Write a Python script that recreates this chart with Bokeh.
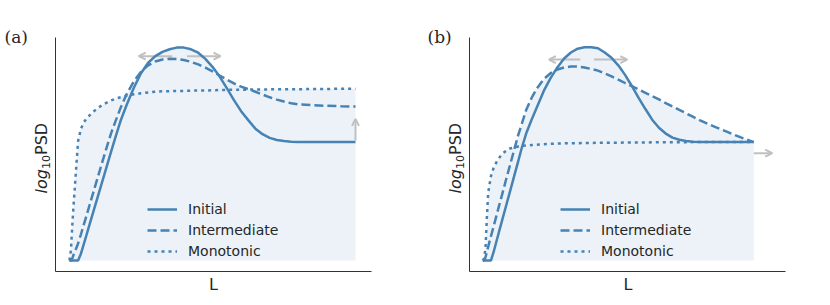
import numpy as np
from bokeh.plotting import figure
from bokeh.layouts import row
from bokeh.models import (Label, Legend, LegendItem, Arrow, OpenHead,
                          FixedTicker, Range1d)
from bokeh.embed import file_html
from bokeh.resources import INLINE

# ---------------- data ----------------
L = [0, 0.05, 0.1, 0.15, 0.2, 0.3, 0.4, 0.5, 0.6, 0.7, 0.85, 1.0, 1.15, 1.3,
     1.45, 1.6, 1.8, 2.0, 2.25, 2.5, 2.75, 3.0, 3.25, 3.5, 3.75, 4.0, 4.25,
     4.5, 4.75, 5.0, 5.25, 5.5, 5.75, 6.0, 6.25, 6.5, 6.75, 7.0, 7.25, 7.5,
     7.75, 8.0, 8.5, 9.0, 9.5, 10.0]

# panel (a)
initial_a = [0, 0, 0, 0, 0, 0,
             0.32, 0.77, 1.22, 1.68, 2.36, 3.04, 3.72, 4.4, 5.08, 5.75,
             6.6, 7.3, 8.1, 8.78, 9.27, 9.58, 9.78, 9.9, 9.98, 9.98,
             9.9, 9.74, 9.45, 9.08, 8.62, 8.08, 7.52, 7.0, 6.58, 6.18,
             5.92, 5.75, 5.65, 5.6, 5.57, 5.56, 5.55, 5.55, 5.55, 5.55]
intermediate_a = [0, 0, 0.1, 0.3, 0.45, 0.8,
                  1.23, 1.68, 2.13, 2.59, 3.27, 3.95, 4.63, 5.3, 5.95, 6.5,
                  7.2, 7.8, 8.4, 8.85, 9.15, 9.33, 9.42, 9.46, 9.45, 9.4,
                  9.31, 9.19, 9.04, 8.87, 8.67, 8.48, 8.3, 8.15, 8.03, 7.91,
                  7.78, 7.65, 7.54, 7.45, 7.37, 7.32, 7.28, 7.25, 7.23, 7.22]
monotonic_a = [0, 0.5, 1.7, 2.75, 3.7, 5.6,
               6.17, 6.48, 6.66, 6.8, 7.0, 7.15, 7.3, 7.4, 7.5, 7.58,
               7.66, 7.73, 7.79, 7.84, 7.88, 7.91, 7.93, 7.94, 7.95, 7.95,
               7.96, 7.97, 7.97, 7.98, 7.99, 8.0, 8.0, 8.0, 8.01, 8.02,
               8.02, 8.02, 8.03, 8.03, 8.03, 8.03, 8.04, 8.04, 8.05, 8.05]

# panel (b)
initial_b = [0, 0, 0, 0, 0, 0,
             0.4, 0.88, 1.35, 1.82, 2.52, 3.22, 3.92, 4.62, 5.33, 5.95,
             6.6, 7.2, 7.95, 8.55, 9.05, 9.47, 9.75, 9.93, 10.0, 10.0,
             9.95, 9.75, 9.5, 9.15, 8.7, 8.18, 7.62, 7.1, 6.6, 6.22,
             5.95, 5.76, 5.66, 5.6, 5.57, 5.56, 5.55, 5.55, 5.55, 5.55]
intermediate_b = [0, 0, 0.15, 0.4, 0.65, 1.13,
                  1.6, 2.08, 2.56, 3.03, 3.75, 4.45, 5.15, 5.85, 6.45, 7.05,
                  7.62, 8.07, 8.5, 8.78, 8.95, 9.05, 9.09, 9.09, 9.05, 8.98,
                  8.9, 8.77, 8.63, 8.48, 8.32, 8.17, 8.02, 7.86, 7.7, 7.55,
                  7.38, 7.22, 7.06, 6.9, 6.74, 6.58, 6.3, 6.04, 5.78, 5.55]
monotonic_b = [0, 0.1, 0.6, 2.0, 3.2, 3.95,
               4.35, 4.6, 4.8, 4.98, 5.13, 5.25, 5.3, 5.34, 5.37, 5.39,
               5.41, 5.43, 5.45, 5.47, 5.48, 5.49, 5.5, 5.5, 5.51, 5.51,
               5.52, 5.52, 5.52, 5.52, 5.53, 5.53, 5.53, 5.53, 5.54, 5.54,
               5.54, 5.54, 5.54, 5.54, 5.55, 5.55, 5.55, 5.55, 5.55, 5.55]

series_names = ["Initial", "Intermediate", "Monotonic"]
panel_tags = ["(a)", "(b)"]
x_label = "L"

# gray arrows: (x_start, y_start, x_end, y_end)
arrows_a = [(3.59, 9.58, 2.42, 9.58), (4.11, 9.58, 5.28, 9.58),
            (10.0, 5.63, 10.0, 6.64)]
arrows_b = [(3.60, 9.42, 2.44, 9.42), (4.10, 9.42, 5.33, 9.42),
            (10.0, 5.03, 10.68, 5.03)]

# ---------------- style / layout ----------------
BLUE = "#4682B4"
GRAY = "#c0c0c0"
DARK = "#262626"
SPINE = "#333333"
DASHES = ["solid", "9 4", "3 4"]
H = 300


def make_panel(tag, curves, arrows, width, xr, spine_x, x_axis_end,
               tag_x, label_x, ylab_x, legend_x):
    p = figure(frame_width=width, frame_height=H,
               x_range=Range1d(*xr), y_range=Range1d(-1.875, 12.1875),
               min_border=0, min_border_left=0, min_border_right=0,
               min_border_top=0, min_border_bottom=0,
               toolbar_location=None, output_backend="svg",
               background_fill_color="white", border_fill_color="white")
    p.outline_line_color = None
    p.grid.visible = False
    for ax in (p.xaxis, p.yaxis):
        ax.ticker = FixedTicker(ticks=[])
        ax.major_tick_line_color = None
        ax.minor_tick_line_color = None
        ax.major_tick_out = 0
        ax.major_tick_in = 0
        ax.minor_tick_out = 0
        ax.major_label_standoff = 0
        ax.major_label_text_font_size = "0px"
        ax.axis_line_color = SPINE
        ax.axis_line_width = 1
    # spines drawn at their own places inside the figure
    p.yaxis.fixed_location = spine_x
    p.yaxis.bounds = (-0.5156, 10.453)
    p.xaxis.fixed_location = -0.5156
    p.xaxis.bounds = (spine_x, x_axis_end)

    envelope = np.maximum.reduce([np.array(c, dtype=float) for c in curves])
    fill = p.varea(x=L, y1=0, y2=envelope, fill_color=BLUE, fill_alpha=0.1)
    fill.level = "underlay"

    for (xs, ys, xe, ye) in arrows:
        a = Arrow(x_start=xs, y_start=ys, x_end=xe, y_end=ye,
                  line_color=GRAY, line_width=2,
                  end=OpenHead(size=7, line_color=GRAY, line_width=2))
        a.level = "underlay"
        p.add_layout(a)

    items = []
    for name, c, dash in zip(series_names, curves, DASHES):
        r = p.line(L, c, line_color=BLUE, line_width=2.5, line_dash=dash)
        items.append(LegendItem(label=name, renderers=[r]))

    leg = Legend(items=items, location=(legend_x, 39),
                 border_line_color=None, background_fill_alpha=0,
                 padding=0, margin=0, spacing=1,
                 glyph_width=30, glyph_height=20, label_height=20,
                 label_standoff=11, label_text_font="DejaVu Sans",
                 label_text_font_size="14px", label_text_color=DARK)
    p.add_layout(leg)

    # panel tag
    p.add_layout(Label(x=tag_x, y=263.5, x_units="screen", y_units="screen",
                       text=tag, text_font="DejaVu Serif",
                       text_font_size="17px", text_color=DARK,
                       text_baseline="middle"))
    # x label
    p.add_layout(Label(x=label_x, y=16, x_units="screen", y_units="screen",
                       text=x_label, text_font="DejaVu Sans",
                       text_font_size="16px", text_color=DARK,
                       text_align="center", text_baseline="middle"))
    # y label: log (italic) + subscript 10 + PSD
    p.add_layout(Label(x=ylab_x, y=107, x_units="screen", y_units="screen",
                       text="log", text_font="DejaVu Sans",
                       text_font_style="italic", text_font_size="16px",
                       text_color=DARK, angle=np.pi / 2,
                       text_align="left", text_baseline="middle"))
    p.add_layout(Label(x=ylab_x + 4.8, y=131.5, x_units="screen",
                       y_units="screen", text="10", text_font="DejaVu Sans",
                       text_font_size="11px", text_color=DARK,
                       angle=np.pi / 2,
                       text_align="left", text_baseline="middle"))
    p.add_layout(Label(x=ylab_x, y=145.5, x_units="screen", y_units="screen",
                       text="PSD", text_font="DejaVu Sans",
                       text_font_size="16px", text_color=DARK,
                       angle=np.pi / 2,
                       text_align="left", text_baseline="middle"))
    return p


pa = make_panel(panel_tags[0], [initial_a, intermediate_a, monotonic_a],
                arrows_a, 422, (-2.4126, 12.3427), -0.4895, 10.559,
                4, 213, 40.5, 147)
pb = make_panel(panel_tags[1], [initial_b, intermediate_b, monotonic_b],
                arrows_b, 400, (-2.225, 12.535), -0.4908, 11.17,
                5, 205.5, 32.5, 138)

layout = row(pa, pb)
open("out.html", "w").write(file_html(layout, INLINE))
